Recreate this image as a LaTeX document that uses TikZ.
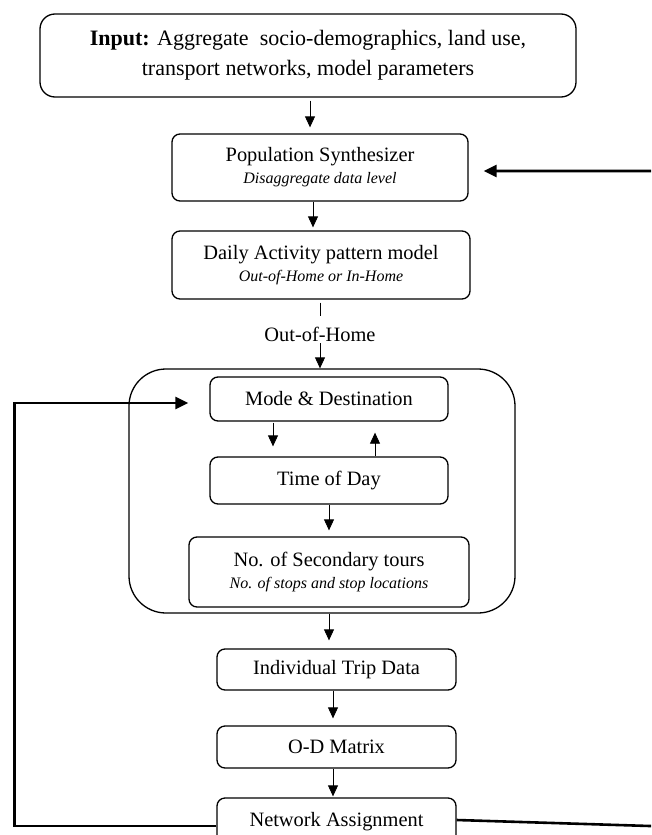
\documentclass[tikz,border=0pt]{standalone}
\usepackage{fontspec}
\setmainfont{Liberation Serif}
\usetikzlibrary{arrows.meta}
\newcommand{\mainfs}{\fontsize{20.4}{22}\selectfont}
\newcommand{\subfs}{\fontsize{16}{22}\selectfont\itshape}
\begin{document}
\begin{tikzpicture}[x=1pt,y=-1pt,
  box/.style={draw, line width=1.3pt, rounded corners=8pt, inner sep=0pt, align=center, font=\mainfs},
  arr/.style={-{Triangle[length=11pt,width=10pt]}, line width=0.8pt},
  fb/.style={-{Triangle[length=13pt,width=12pt]}, line width=2.6pt},
  ]
\useasboundingbox (0,0) rectangle (651,835);
\clip (0,0) rectangle (651,835);

\node[box, rounded corners=15pt, minimum width=536pt, minimum height=83pt,
      font=\fontsize{22}{30}\selectfont] (input) at (308,55.5)
  {\textbf{Input:} Aggregate\ \ socio-demographics,\ land use,\\ transport networks, model parameters};
\node[box, minimum width=296pt, minimum height=67pt] (pop) at (320,167.5)
  {Population Synthesizer\\{\subfs Disaggregate data level}};
\node[box, minimum width=298pt, minimum height=68pt] (daily) at (321,265)
  {Daily Activity pattern model\\{\subfs Out-of-Home or In-Home}};
\node[anchor=base, inner sep=0pt, text height=25.5pt, text depth=1.5pt, font=\mainfs] (ooh) at (320,341.5) {Out-of-Home};

\node[box, rounded corners=37pt, minimum width=386pt, minimum height=244pt] (big) at (322,491) {};
\node[box, minimum width=238pt, minimum height=44pt] (mode) at (329,399) {Mode \& Destination};
\node[box, minimum width=238pt, minimum height=47pt] (time) at (329,480.5) {Time of Day};
\node[box, minimum width=280pt, minimum height=70pt] (sec) at (329,572)
  {No. of Secondary tours\\{\subfs No. of stops and stop locations}};
\node[box, minimum width=239pt, minimum height=41pt] (trip) at (336.5,669.5) {Individual Trip Data};
\node[box, minimum width=239pt, minimum height=42pt] (od) at (336.5,747) {O-D Matrix};
\node[box, minimum width=239pt, minimum height=48pt] (net) at (336.5,822) {Network Assignment};

\draw[arr, shorten <=3pt, shorten >=6pt] (input.south -| 310,0) -- (pop.north -| 310,0);
\draw[arr, shorten >=3pt] (pop.south -| 313,0) -- (daily.north -| 313,0);
\draw[line width=0.8pt, shorten <=3pt] (daily.south -| ooh.north) -- (ooh.north);
\draw[arr] (ooh.south) -- (big.north -| ooh.south);
\draw[arr, shorten <=1pt, shorten >=10pt] (mode.south -| 273,0) -- (time.north -| 273,0);
\draw[arr, shorten >=11pt] (time.north -| 375,0) -- (mode.south -| 375,0);
\draw[arr, shorten >=6pt] (time.south) -- (sec.north);
\draw[arr, shorten >=8pt] (big.south -| 329,0) -- (trip.north -| 329,0);
\draw[arr, shorten >=7pt] (trip.south -| 333,0) -- (od.north -| 333,0);
\draw[arr, shorten >=1pt] (od.south -| 333,0) -- (net.north -| 333,0);

\draw[fb, shorten >=21pt] ([yshift=-4pt]net.west) -- ++(-202,0) |- ([yshift=-4pt]mode.west);
\draw[fb, shorten >=15pt] ([yshift=2pt]net.east) -- (666,826.5) |- ([yshift=-3.5pt]pop.east);
\end{tikzpicture}
\end{document}
